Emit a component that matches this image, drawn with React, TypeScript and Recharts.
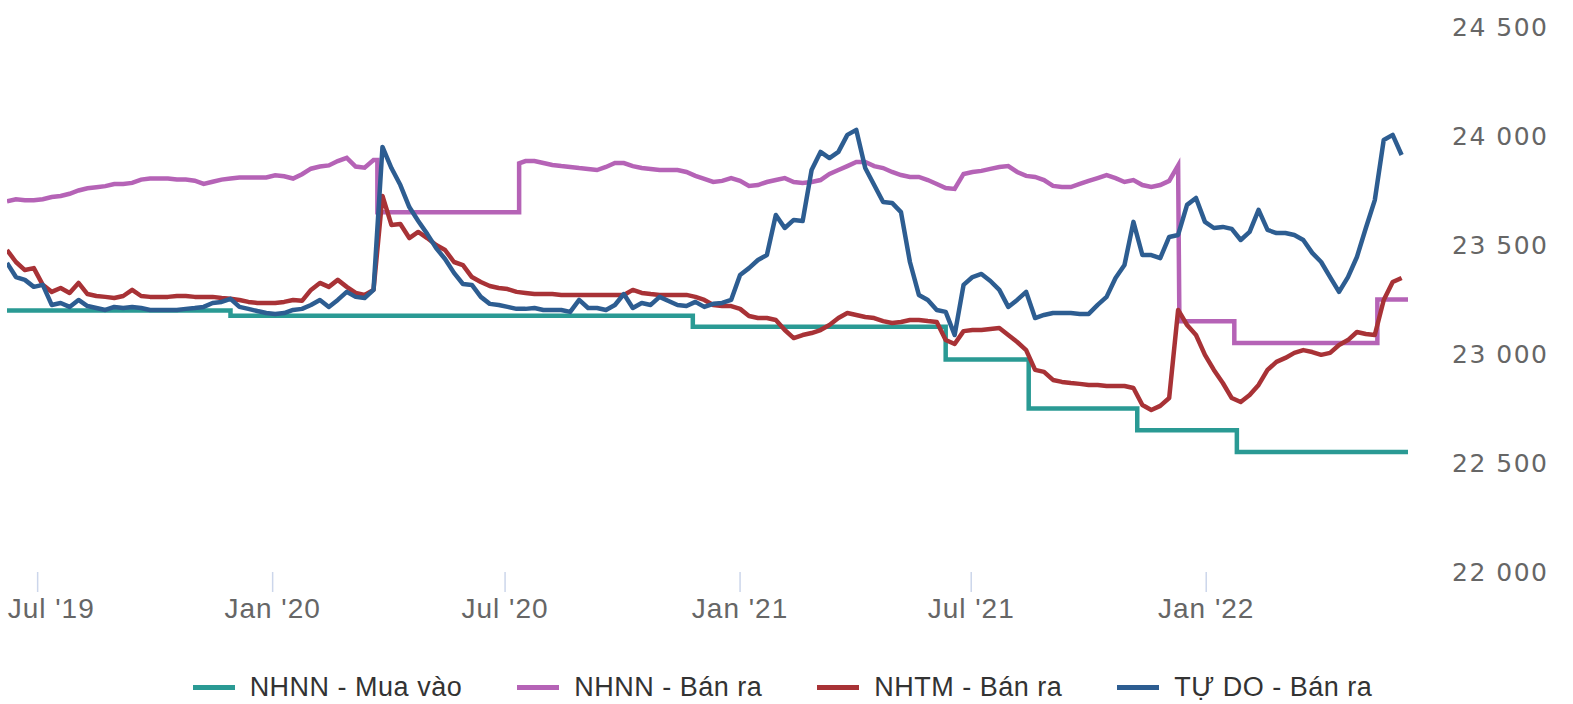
import { Legend, Line, LineChart, XAxis, YAxis } from "recharts";

const DAY = 86400000;
const START = Date.UTC(2019, 5, 7);
const END = Date.UTC(2022, 5, 8);

const seriesNames = ["NHNN - Mua vào", "NHNN - Bán ra", "NHTM - Bán ra", "TỰ DO - Bán ra"];
const seriesColors = ["#2a9a94", "#b563b6", "#a83236", "#2d5d91"];

const xTickDates = ["2019-07-01", "2020-01-01", "2020-07-01", "2021-01-01", "2021-07-01", "2022-01-01"];
const yTicks = [22000, 22500, 23000, 23500, 24000, 24500];

// NHNN - Mua vào: step changes
const tealDates = ["2019-06-07", "2019-11-29", "2020-11-25", "2021-06-11", "2021-08-15", "2021-11-08", "2022-01-25", "2022-06-08"];
const tealValues = [23200, 23175, 23125, 22975, 22750, 22650, 22550, 22550];

// weekly readings, first week = 7 Jun 2019
const purpleWeekly: (number | null)[] = [
  23700, 23710, 23705, 23705, 23710, 23720, 23725, 23735, 23750, 23760,
  23765, 23770, 23780, 23780, 23785, 23800, 23805, 23805, 23805, 23800,
  23800, 23795, 23780, 23790, 23800, 23805, 23810, 23810, 23810, 23810,
  23820, 23815, 23805, 23825, 23850, 23860, 23865, 23885, 23900, 23860,
  23855, 23890,
  null, null, null, null, null, null, null, null, null, null, null, null, null, null, null, null,
  23885, 23885, 23876, 23867, 23862, 23858, 23853, 23849, 23844, 23858,
  23876, 23876, 23862, 23853, 23849, 23844, 23844, 23844, 23835, 23817,
  23803, 23789, 23794, 23807, 23794, 23771, 23775, 23789, 23798, 23807,
  23789, 23784, 23789, 23798, 23826, 23844, 23862, 23881, 23881, 23862,
  23853, 23835, 23821, 23812, 23812, 23798, 23780, 23761, 23757, 23826,
  23835, 23840, 23849, 23858, 23862, 23835, 23817, 23812, 23798, 23771,
  23766, 23766, 23780, 23794, 23807, 23821, 23807, 23789, 23798, 23775,
  23766, 23775, 23794,
  null, null, null, null, null, null, null, null, null, null, null, null, null,
  null, null, null, null, null, null, null, null, null, null, null, null, null,
];
const purpleStepDates = ["2020-03-23", "2020-03-23", "2020-07-12", "2020-07-12", "2021-12-10", "2021-12-11", "2022-01-23", "2022-01-23", "2022-05-15", "2022-05-15", "2022-06-08"];
const purpleStepValues = [23890, 23650, 23650, 23875, 23865, 23150, 23150, 23050, 23050, 23250, 23250];

const redValues = [
  23477, 23422, 23385, 23394, 23317, 23285, 23303, 23280, 23326, 23275,
  23266, 23262, 23257, 23266, 23294, 23266, 23262, 23262, 23262, 23266,
  23266, 23262, 23262, 23262, 23257, 23253, 23248, 23239, 23234, 23234,
  23234, 23239, 23248, 23244, 23294, 23326, 23308, 23340, 23308, 23280,
  23271, 23294, 23725, 23592, 23596, 23532, 23560, 23532, 23500, 23477,
  23422, 23408, 23353, 23330, 23312, 23303, 23298, 23285, 23280, 23275,
  23275, 23275, 23271, 23271, 23271, 23271, 23271, 23271, 23271, 23271,
  23294, 23280, 23275, 23271, 23271, 23271, 23271, 23262, 23248, 23225,
  23220, 23220, 23207, 23174, 23165, 23165, 23156, 23110, 23073, 23087,
  23096, 23110, 23133, 23165, 23188, 23179, 23170, 23165, 23151, 23142,
  23147, 23156, 23156, 23151, 23147, 23064, 23046, 23105, 23110, 23110,
  23115, 23119, 23087, 23055, 23018, 22927, 22918, 22881, 22872, 22867,
  22863, 22858, 22858, 22853, 22853, 22853, 22844, 22766, 22743, 22762,
  22798, 23202, 23133, 23087, 22996, 22927, 22867, 22798, 22780, 22812,
  22858, 22927, 22964, 22982, 23005, 23018, 23009, 22996, 23005, 23041,
  23064, 23101, 23092, 23087, 23248, 23330, 23349,
];

const blueValues = [
  23418, 23353, 23340, 23308, 23317, 23225, 23234, 23216, 23248, 23220,
  23211, 23202, 23216, 23211, 23216, 23211, 23202, 23202, 23202, 23202,
  23207, 23211, 23216, 23234, 23239, 23253, 23216, 23207, 23197, 23188,
  23184, 23188, 23202, 23207, 23225, 23248, 23216, 23248, 23285, 23262,
  23257, 23294, 23950, 23853, 23775, 23674, 23610, 23551, 23486, 23436,
  23372, 23321, 23317, 23262, 23230, 23225, 23216, 23207, 23207, 23211,
  23202, 23202, 23202, 23193, 23248, 23211, 23211, 23202, 23225, 23275,
  23211, 23234, 23225, 23262, 23243, 23225, 23220, 23239, 23216, 23230,
  23234, 23248, 23362, 23394, 23431, 23454, 23638, 23578, 23615, 23610,
  23844, 23927, 23899, 23927, 24005, 24028, 23853, 23775, 23697, 23693,
  23651, 23422, 23271, 23248, 23202, 23193, 23087, 23317, 23353, 23367,
  23335, 23294, 23216, 23248, 23285, 23165, 23179, 23188, 23188, 23188,
  23184, 23184, 23225, 23262, 23349, 23408, 23606, 23454, 23454, 23440,
  23537, 23546, 23684, 23716, 23606, 23578, 23583, 23574, 23523, 23560,
  23661, 23569, 23555, 23555, 23546, 23523, 23464, 23422, 23353, 23285,
  23353, 23445, 23578, 23706, 23982, 24005, 23913,
];

const weekDates = redValues.map((_, i) => START + i * 7 * DAY);

const tealData = tealDates.map((d, i) => ({ t: Date.parse(d), v: tealValues[i] }));
const purpleData = [
  ...weekDates.map((t, i) => ({ t, v: purpleWeekly[i] })).filter((p) => p.v !== null),
  ...purpleStepDates.map((d, i) => ({ t: Date.parse(d), v: purpleStepValues[i] })),
].sort((a, b) => a.t - b.t);
const redData = weekDates.map((t, i) => ({ t, v: redValues[i] }));
const blueData = weekDates.map((t, i) => ({ t, v: blueValues[i] }));

const MONTHS = ["Jan", "Feb", "Mar", "Apr", "May", "Jun", "Jul", "Aug", "Sep", "Oct", "Nov", "Dec"];
const formatDate = (t: number) => {
  const d = new Date(t);
  return `${MONTHS[d.getUTCMonth()]} '${String(d.getUTCFullYear()).slice(2)}`;
};
const formatValue = (v: number) => `${Math.floor(v / 1000)} ${String(v % 1000).padStart(3, "0")}`;

const labelFont = '"Liberation Sans", Arial, sans-serif';

// first label is pushed inside the chart, like the original
function XTick({ x, y, payload, index }: any) {
  const first = index === 0;
  return (
    <text
      x={first ? x - 30 : x}
      y={y}
      dy="0.71em"
      textAnchor={first ? "start" : "middle"}
      fill="#666"
      fontSize={28}
      fontFamily={labelFont}
      letterSpacing={1}
    >
      {formatDate(payload.value)}
    </text>
  );
}

function LegendContent() {
  return (
    <div
      style={{
        boxSizing: "border-box",
        height: 40,
        paddingTop: 6,
        display: "flex",
        justifyContent: "center",
        alignItems: "center",
        gap: 55,
        fontFamily: labelFont,
        fontSize: 27,
        letterSpacing: 0.5,
        color: "#333",
      }}
    >
      {seriesNames.map((name, i) => (
        <div key={name} style={{ display: "flex", alignItems: "center", gap: 15 }}>
          <span style={{ display: "inline-block", width: 42, height: 5, background: seriesColors[i] }} />
          <span>{name}</span>
        </div>
      ))}
    </div>
  );
}

export default function App() {
  return (
    <div style={{ width: 1573, height: 704, background: "#fff" }}>
      <style>{`body{margin:0;background:#fff}`}</style>
      <LineChart width={1573} height={704} margin={{ top: 27, right: 15, left: 7, bottom: 0 }}>
        <XAxis
          type="number"
          dataKey="t"
          domain={[START, END]}
          allowDataOverflow
          ticks={xTickDates.map((d) => Date.parse(d))}
          interval={0}
          axisLine={false}
          tickLine={{ stroke: "#ccd6eb", strokeWidth: 1.5 }}
          tickSize={20}
          tickMargin={6}
          height={92}
          tick={<XTick />}
        />
        <YAxis
          orientation="right"
          domain={[22000, 24500]}
          ticks={yTicks}
          tickFormatter={formatValue}
          axisLine={false}
          tickLine={false}
          tickMargin={38}
          width={150}
          tick={{ fill: "#666", fontSize: 25, fontFamily: '"DejaVu Sans", sans-serif', letterSpacing: 1.5 }}
        />
        <Legend verticalAlign="bottom" content={() => <LegendContent />} />
        <Line data={tealData} dataKey="v" name={seriesNames[0]} type="stepAfter" stroke={seriesColors[0]} strokeWidth={4.5} dot={false} isAnimationActive={false} />
        <Line data={purpleData} dataKey="v" name={seriesNames[1]} type="linear" stroke={seriesColors[1]} strokeWidth={4.5} dot={false} isAnimationActive={false} />
        <Line data={redData} dataKey="v" name={seriesNames[2]} type="linear" stroke={seriesColors[2]} strokeWidth={4.5} strokeLinejoin="round" dot={false} isAnimationActive={false} />
        <Line data={blueData} dataKey="v" name={seriesNames[3]} type="linear" stroke={seriesColors[3]} strokeWidth={4.5} strokeLinejoin="round" dot={false} isAnimationActive={false} />
      </LineChart>
    </div>
  );
}
